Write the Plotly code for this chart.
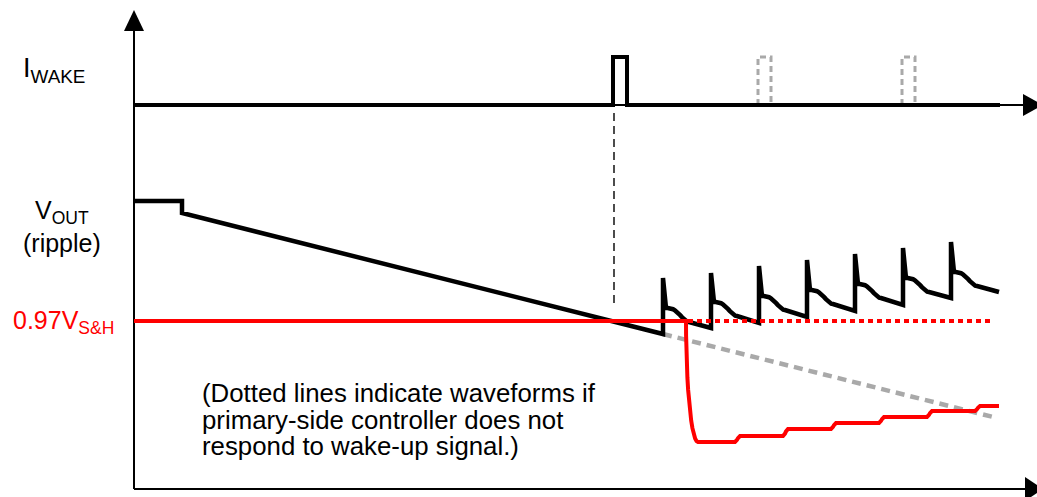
import numpy as np
import plotly.graph_objects as go

# ---------------- data (time from origin, amplitude from bottom axis) ----------------
# I_WAKE signal
iwake_base = 384
iwake_high = 432
wake_pulse = [479, 493]                     # wake-up pulse that is sent
ghost_pulses = [[624, 637], [768, 781]]     # pulses if primary does not respond (dotted)
iwake_end = 866

# V_OUT (ripple)
vout_start = 288
vout_step_t = 48
vout_after_step = 276
spike_t = [529, 577, 625, 673, 721, 769, 817]
spike_base = [155, 161, 166, 172, 178, 184, 191]
spike_peak = [211, 216, 223, 229, 235, 241, 247]
spike_level = [181, 187, 193, 199, 205, 211, 217]
vout_end = [865, 197]
droop_end = [859, 72]                       # gray dotted: V_OUT without response

# 0.97 V_S&H threshold
sh_level = 168
sh_drop_t = 552
sh_drop_end_t = 564
sh_step_t = [601, 649, 697, 745, 793, 841]
sh_levels = [47, 53, 60, 66, 72, 78, 83]
sh_end_t = 865
sh_dotted_end_t = 858

wake_marker_t = 480
wake_marker_span = [186, 376]

labels_left = ["I<sub>WAKE</sub>", "V<sub>OUT</sub>", "(ripple)", "0.97V<sub>S&amp;H</sub>"]
note_lines = ["(Dotted lines indicate waveforms if",
              "primary-side controller does not",
              "respond to wake-up signal.)"]

# ---------------- styling / geometry ----------------
W, H = 1037, 497
X0, Y0 = 134, 489          # pixel position of the origin
FONT = "Liberation Sans, Arial, sans-serif"
RED = "#ff0000"
GRAY = "#a9a9a9"


def s_curve(x0, y0, x1, y1, n=10, k=1.0):
    u = np.linspace(0, 1, n)
    e = (1 - np.cos(np.pi * u ** k)) / 2
    return list(x0 + (x1 - x0) * u), list(y0 + (y1 - y0) * e)


fig = go.Figure()

# gray dotted: V_OUT droop if no response
fig.add_trace(go.Scatter(x=[spike_t[0], droop_end[0]], y=[spike_base[0], droop_end[1]],
                         mode="lines", line=dict(color=GRAY, width=4.5, dash="9px,6px")))

# gray dotted ghost pulses
for a, b in ghost_pulses:
    fig.add_trace(go.Scatter(x=[a, a, b, b], y=[iwake_base, iwake_high, iwake_high, iwake_base],
                             mode="lines", line=dict(color=GRAY, width=3, dash="6px,4px")))

# vertical dashed marker at wake pulse
fig.add_trace(go.Scatter(x=[wake_marker_t, wake_marker_t], y=wake_marker_span, mode="lines",
                         line=dict(color="black", width=1.4, dash="8px,5px")))

# axes (lines)
top_axis_v = 458
fig.add_trace(go.Scatter(x=[0, 0], y=[0, top_axis_v], mode="lines", line=dict(color="black", width=2)))
fig.add_trace(go.Scatter(x=[0, 891], y=[0, 0], mode="lines", line=dict(color="black", width=2)))
fig.add_trace(go.Scatter(x=[0, 889], y=[iwake_base, iwake_base], mode="lines", line=dict(color="black", width=2)))

# I_WAKE signal
ix = [0, wake_pulse[0], wake_pulse[0], wake_pulse[1], wake_pulse[1], iwake_end]
iy = [iwake_base, iwake_base, iwake_high, iwake_high, iwake_base, iwake_base]
fig.add_trace(go.Scatter(x=ix, y=iy, mode="lines", line=dict(color="black", width=4)))

# V_OUT waveform
vx = [0, vout_step_t, vout_step_t, spike_t[0]]
vy = [vout_start, vout_start, vout_after_step, spike_base[0]]
n = len(spike_t)
for i in range(n):
    ts, pk, lv = spike_t[i], spike_peak[i], spike_level[i]
    vx += [ts, ts + 2.5]
    vy += [pk, lv]
    hx, hy = s_curve(ts + 3, lv, ts + 26, lv - 14, 14, 1.4)
    vx += hx
    vy += hy
    if i + 1 < n:
        vx.append(spike_t[i + 1]); vy.append(spike_base[i + 1])
    else:
        vx.append(vout_end[0]); vy.append(vout_end[1])
fig.add_trace(go.Scatter(x=vx, y=vy, mode="lines", line=dict(color="black", width=4.5)))

# red dotted threshold continuation
fig.add_trace(go.Scatter(x=[sh_drop_t + 2, sh_dotted_end_t], y=[sh_level, sh_level], mode="lines",
                         line=dict(color=RED, width=4, dash="5px,4px")))

# red S&H waveform
th = np.linspace(0, np.pi / 2, 14)
rx = [0, sh_drop_t] + list(sh_drop_t + (sh_drop_end_t - sh_drop_t) * (1 - np.cos(th)))
ry = [sh_level, sh_level] + list(sh_levels[0] + (sh_level - sh_levels[0]) * (1 - np.sin(th)))
for i, t in enumerate(sh_step_t):
    sx, sy = s_curve(t, sh_levels[i], t + 5, sh_levels[i + 1], 6)
    rx += sx
    ry += sy
rx.append(sh_end_t); ry.append(sh_levels[-1])
fig.add_trace(go.Scatter(x=rx, y=ry, mode="lines", line=dict(color=RED, width=4)))

# arrowheads
def tri(pts):
    return "M " + " L ".join(f"{x},{y}" for x, y in pts) + " Z"

arrow_shapes = [
    tri([(-10, top_axis_v), (10, top_axis_v), (0, top_axis_v + 21)]),
    tri([(891, 12), (891, -12), (909, 0)]),
    tri([(889, iwake_base + 11), (889, iwake_base - 11), (909, iwake_base)]),
]
for p in arrow_shapes:
    fig.add_shape(type="path", path=p, xref="x", yref="y", fillcolor="black",
                  line=dict(color="black", width=0))

# labels
fig.add_annotation(x=-113, y=419, text=labels_left[0], xanchor="left", yanchor="middle",
                   showarrow=False, font=dict(family=FONT, size=27, color="black"))
fig.add_annotation(x=-72, y=277, text=labels_left[1], xanchor="center", yanchor="middle",
                   showarrow=False, font=dict(family=FONT, size=25, color="black"))
fig.add_annotation(x=-72, y=246, text=labels_left[2], xanchor="center", yanchor="middle",
                   showarrow=False, font=dict(family=FONT, size=25, color="black"))
fig.add_annotation(x=-123, y=167, text=labels_left[3], xanchor="left", yanchor="middle",
                   showarrow=False, font=dict(family=FONT, size=25, color=RED))
for k, line in enumerate(note_lines):
    fig.add_annotation(x=66, y=96 - 26.5 * k, text=line, xanchor="left", yanchor="middle",
                       showarrow=False, font=dict(family=FONT, size=25.8, color="black"))

fig.update_layout(
    width=W, height=H, autosize=False,
    margin=dict(l=0, r=0, t=0, b=0, pad=0),
    paper_bgcolor="white", plot_bgcolor="white",
    showlegend=False,
    xaxis=dict(range=[-X0, W - X0], visible=False, fixedrange=True),
    yaxis=dict(range=[Y0 - H, Y0], visible=False, fixedrange=True),
)

fig.write_html("out.html", config={"displayModeBar": False},
               post_script="document.body.style.margin='0';")
